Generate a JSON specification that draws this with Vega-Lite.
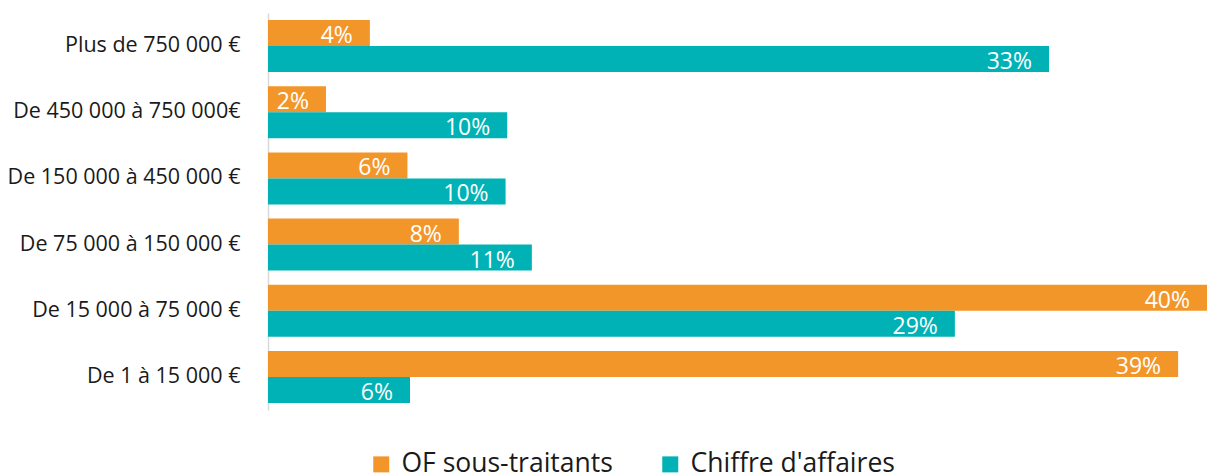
{
  "$schema": "https://vega.github.io/schema/vega-lite/v6.json",
  "width": 939,
  "height": 397,
  "autosize": {"type": "none"},
  "padding": {"left": 268, "top": 13, "right": 0, "bottom": 63},
  "background": "white",
  "config": {
    "view": {"stroke": null},
    "font": "Open Sans",
    "text": {"font": "Open Sans"}
  },
  "data": {
    "values": [
      {"tranche": "Plus de 750 000 €", "serie": "OF sous-traitants", "valeur": 0.0434},
      {"tranche": "Plus de 750 000 €", "serie": "Chiffre d'affaires", "valeur": 0.3327},
      {"tranche": "De 450 000 à 750 000€", "serie": "OF sous-traitants", "valeur": 0.0247},
      {"tranche": "De 450 000 à 750 000€", "serie": "Chiffre d'affaires", "valeur": 0.1019},
      {"tranche": "De 150 000 à 450 000 €", "serie": "OF sous-traitants", "valeur": 0.0594},
      {"tranche": "De 150 000 à 450 000 €", "serie": "Chiffre d'affaires", "valeur": 0.1012},
      {"tranche": "De 75 000 à 150 000 €", "serie": "OF sous-traitants", "valeur": 0.0813},
      {"tranche": "De 75 000 à 150 000 €", "serie": "Chiffre d'affaires", "valeur": 0.1124},
      {"tranche": "De 15 000 à 75 000 €", "serie": "OF sous-traitants", "valeur": 0.4},
      {"tranche": "De 15 000 à 75 000 €", "serie": "Chiffre d'affaires", "valeur": 0.2926},
      {"tranche": "De 1 à 15 000 €", "serie": "OF sous-traitants", "valeur": 0.3877},
      {"tranche": "De 1 à 15 000 €", "serie": "Chiffre d'affaires", "valeur": 0.0605}
    ]
  },
  "encoding": {
    "y": {
      "field": "tranche",
      "type": "nominal",
      "sort": null,
      "scale": {"paddingInner": 0.215, "paddingOuter": 0.106},
      "axis": {
        "title": null,
        "ticks": false,
        "domainColor": "#d9d9d9",
        "domainWidth": 1.5,
        "labelPadding": 28,
        "labelFontSize": 21.5,
        "labelColor": "#1a1a1a",
        "labelFont": "Open Sans",
        "labelLimit": 300
      }
    },
    "yOffset": {
      "field": "serie",
      "type": "nominal",
      "sort": ["OF sous-traitants", "Chiffre d'affaires"],
      "scale": {"paddingInner": 0, "paddingOuter": 0}
    },
    "x": {
      "field": "valeur",
      "type": "quantitative",
      "scale": {"domain": [0, 0.4], "nice": false, "zero": true},
      "axis": null
    }
  },
  "layer": [
    {
      "mark": {"type": "bar", "cornerRadius": 0},
      "encoding": {
        "color": {
          "field": "serie",
          "type": "nominal",
          "sort": ["OF sous-traitants", "Chiffre d'affaires"],
          "scale": {"domain": ["OF sous-traitants", "Chiffre d'affaires"], "range": ["#F39629", "#00B2B5"]},
          "legend": {
            "title": null,
            "orient": "none",
            "direction": "horizontal",
            "legendX": 100,
            "legendY": 438,
            "symbolType": "square",
            "symbolSize": 256,
            "symbolStrokeWidth": 0,
            "symbolOpacity": 1,
            "labelFontSize": 26.5,
            "labelFont": "Open Sans",
            "labelColor": "#1a1a1a",
            "labelOffset": 7,
            "columnPadding": 44,
            "labelLimit": 400
          }
        }
      }
    },
    {
      "mark": {"type": "text", "align": "right", "baseline": "alphabetic", "dx": -17, "dy": 10, "color": "white", "fontSize": 23, "font": "Open Sans"},
      "encoding": {
        "text": {"field": "valeur", "type": "quantitative", "format": ".0%"}
      }
    }
  ]
}
